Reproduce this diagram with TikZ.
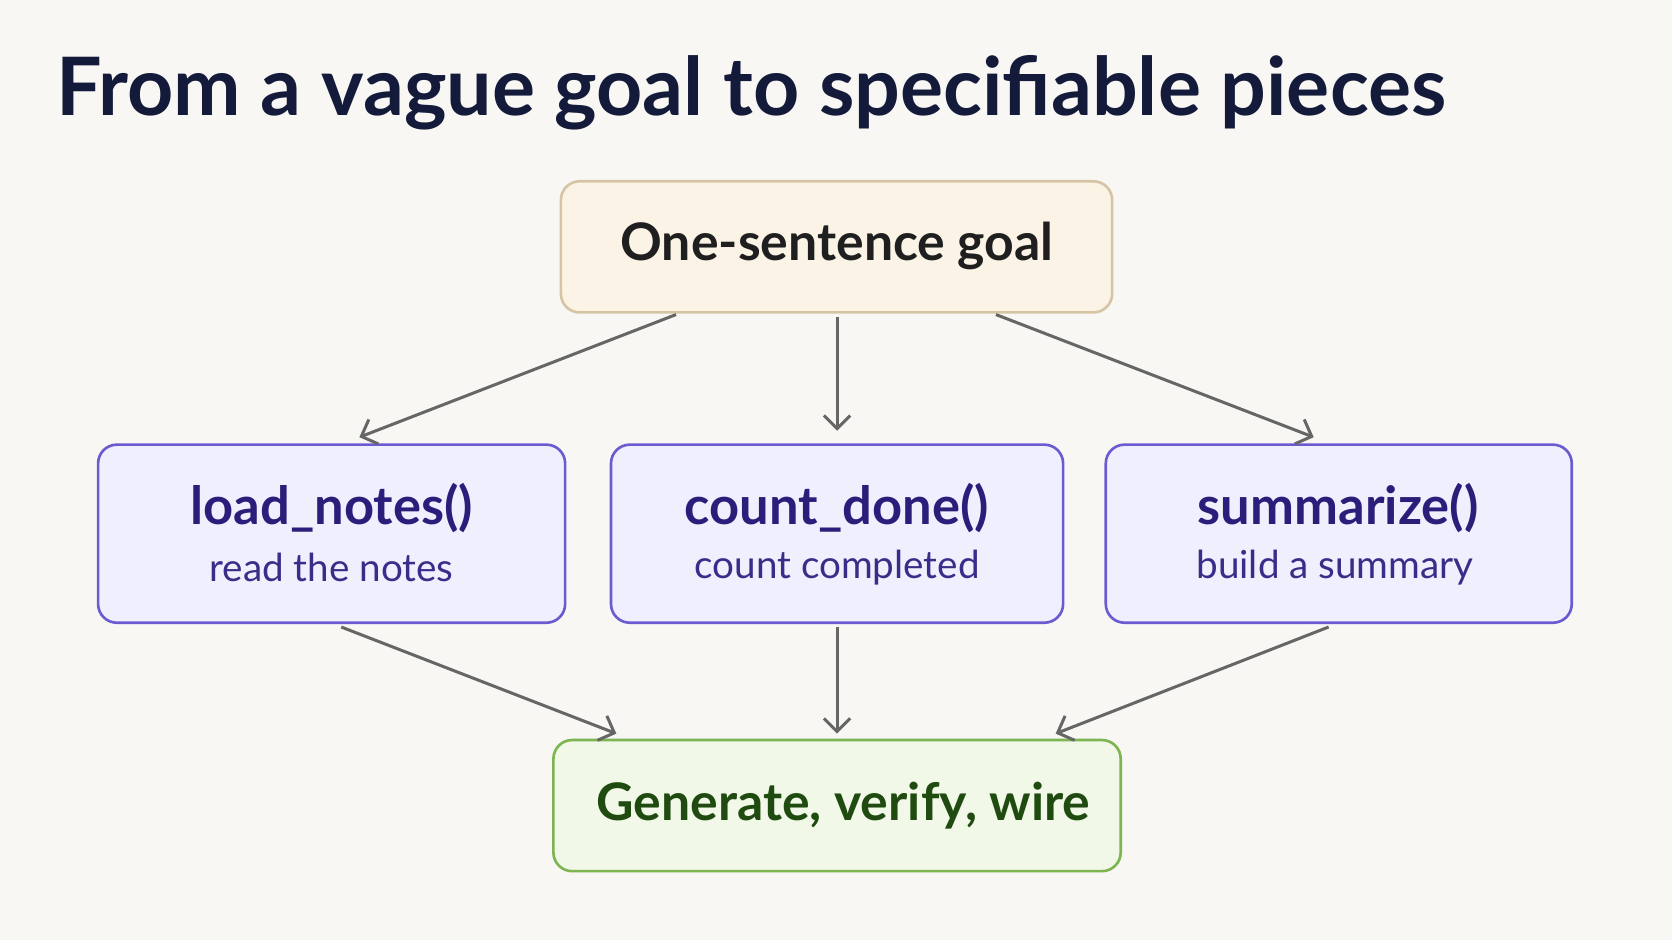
\documentclass[tikz,border=0pt]{standalone}
\usepackage{fontspec}
\setmainfont{Lato}
\usetikzlibrary{arrows.meta}
\definecolor{bg}{HTML}{F8F7F4}
\definecolor{titlec}{HTML}{141A3A}
\definecolor{goalfill}{HTML}{FAF3E6}
\definecolor{goalline}{HTML}{D6C5A5}
\definecolor{fnfill}{HTML}{F0EFFD}
\definecolor{fnline}{HTML}{6B5BD0}
\definecolor{fntext}{HTML}{2B1D7A}
\definecolor{fnsub}{HTML}{3A2D8A}
\definecolor{endfill}{HTML}{F1F8E7}
\definecolor{endline}{HTML}{7CB552}
\definecolor{endtext}{HTML}{1F4A10}
\definecolor{arr}{HTML}{666666}
\begin{document}
\begin{tikzpicture}[x=0.01cm,y=-0.01cm,
  box/.style={line width=0.7pt,rounded corners=5pt},
  fnt/.style={font=\fontsize{14}{17}\selectfont\bfseries,text=fntext},
  fns/.style={font=\fontsize{10.3}{12}\selectfont,text=fnsub},
  conn/.style={draw=arr,line width=0.8pt,-{Straight Barb[length=3.5pt,width=7pt,line width=0.8pt]}}]
\fill[bg] (0,0) rectangle (1568,882);
\useasboundingbox (0,0) rectangle (1568,882);
\node[anchor=base west,inner sep=0pt,text=titlec,font=\fontsize{21.5}{24}\selectfont\bfseries] (title) at (52,108) {From a vague goal to specifiable pieces};
\path[box,draw=goalline,fill=goalfill] (526,170) rectangle (1043,293);
\node[font=\fontsize{13.8}{16}\selectfont\bfseries,text=black!88] (goalt) at (785,231) {One-sentence goal};
\path[box,draw=fnline,fill=fnfill] (92,417) rectangle (530,584);
\path[box,draw=fnline,fill=fnfill] (573,417) rectangle (997,584);
\path[box,draw=fnline,fill=fnfill] (1037,417) rectangle (1474,584);
\node[fnt] (f1) at (311,476) {load\_notes()};
\node[fns] (s1) at (311,532) {read the notes};
\node[fnt] (f2) at (785,476) {count\_done()};
\node[fns] (s2) at (785,532) {count completed};
\node[fnt] (f3) at (1255,476) {summarize()};
\node[fns] (s3) at (1252,532) {build a summary};
\path[box,draw=endline,fill=endfill] (519,694) rectangle (1051,817);
\node[font=\fontsize{13.8}{16}\selectfont\bfseries,text=endtext] (endt) at (791,756) {Generate, verify, wire};
\coordinate (g1) at (634,295); \coordinate (g2) at (785,297); \coordinate (g3) at (934,295);
\coordinate (a1) at (337,410); \coordinate (a2) at (785,404); \coordinate (a3) at (1232,410);
\coordinate (b1) at (320,588); \coordinate (b2) at (785,588); \coordinate (b3) at (1246,588);
\coordinate (c1) at (578,688); \coordinate (c2) at (785,688); \coordinate (c3) at (990,688);
\draw[conn] (g1) -- (a1); \draw[conn] (g2) -- (a2); \draw[conn] (g3) -- (a3);
\draw[conn] (b1) -- (c1); \draw[conn] (b2) -- (c2); \draw[conn] (b3) -- (c3);
\end{tikzpicture}
\end{document}
